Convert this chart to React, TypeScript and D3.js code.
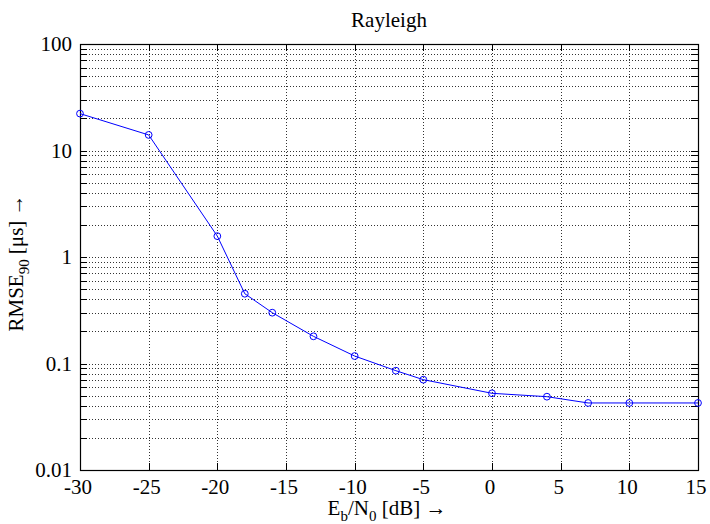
import React from "react";
import * as d3 from "d3";

const ebn0 = [-30, -25, -20, -18, -16, -13, -10, -7, -5, 0, 4, 7, 10, 15];
const rmse = [22.2, 14.0, 1.57, 0.452, 0.300, 0.180, 0.1175, 0.0856, 0.0705, 0.0525, 0.0488, 0.0426, 0.0426, 0.0426];
const xTicks = [-30, -25, -20, -15, -10, -5, 0, 5, 10, 15];
const yMajor = [0.01, 0.1, 1, 10, 100];
const yMajorLabels = ["0.01", "0.1", "1", "10", "100"];
const title = "Rayleigh";

const W = 710, H = 524;
const L = 80, R = 698, T = 44, B = 470;
const FONT = "Liberation Serif";

export default function App() {
  const x = d3.scaleLinear().domain([-30, 15]).range([L, R]);
  const y = d3.scaleLog().domain([0.01, 100]).range([B, T]);
  const yAll = y.ticks();
  const line = d3.line<number>().x((_, i) => x(ebn0[i])).y((d) => y(d));
  const tick = 7;
  const gridStyle = { stroke: "#333", strokeWidth: 1, strokeDasharray: "1,2", shapeRendering: "crispEdges" as const };
  const ts = { fontFamily: FONT, fontSize: 21, fill: "#000" };

  return (
    <svg width={W} height={H} style={{ position: "absolute", left: 0, top: 0, background: "#fff", fontFamily: FONT }}>
      <rect x={0} y={0} width={W} height={H} fill="#fff" />
      {yAll.filter((v) => v > 0.01 && v < 100).map((v, i) => (
        <line key={"hg" + i} x1={L} x2={R} y1={Math.round(y(v)) + 0.5} y2={Math.round(y(v)) + 0.5} style={gridStyle} />
      ))}
      {xTicks.filter((v) => v > -30 && v < 15).map((v, i) => (
        <line key={"vg" + i} x1={Math.round(x(v)) + 0.5} x2={Math.round(x(v)) + 0.5} y1={T} y2={B} style={gridStyle} />
      ))}
      {yAll.map((v, i) => {
        const yy = Math.round(y(v)) + 0.5;
        return (
          <g key={"yt" + i} stroke="#000" strokeWidth={1}>
            <line x1={L} x2={L + tick} y1={yy} y2={yy} />
            <line x1={R} x2={R - tick} y1={yy} y2={yy} />
          </g>
        );
      })}
      {xTicks.map((v, i) => {
        const xx = Math.round(x(v)) + 0.5;
        return (
          <g key={"xt" + i} stroke="#000" strokeWidth={1}>
            <line x1={xx} x2={xx} y1={B} y2={B - tick} />
            <line x1={xx} x2={xx} y1={T} y2={T + tick} />
          </g>
        );
      })}
      <rect x={L + 0.5} y={T + 0.5} width={R - L} height={B - T} fill="none" stroke="#000" strokeWidth={1.2} />
      {yMajor.map((v, i) => (
        <text key={"yl" + i} x={72} y={y(v) + 7} textAnchor="end" style={ts}>
          {yMajorLabels[i]}
        </text>
      ))}
      {xTicks.map((v, i) => (
        <text key={"xl" + i} x={x(v) - 2} y={494} textAnchor="middle" style={ts}>
          {String(v)}
        </text>
      ))}
      <path d={line(rmse) || ""} fill="none" stroke="#0000ff" strokeWidth={1} />
      {rmse.map((v, i) => (
        <circle key={"pt" + i} cx={x(ebn0[i])} cy={y(v)} r={3.4} fill="none" stroke="#0000ff" strokeWidth={1} />
      ))}
      <text x={(L + R) / 2} y={27} textAnchor="middle" style={ts}>{title}</text>
      <text x={387} y={515} textAnchor="middle" style={ts}>
        <tspan>E</tspan>
        <tspan fontSize={15} dy={6}>b</tspan>
        <tspan dy={-6}>/N</tspan>
        <tspan fontSize={15} dy={6}>0</tspan>
        <tspan dy={-6}>{" [dB] \u2192"}</tspan>
      </text>
      <text transform={`translate(23,263) rotate(-90)`} textAnchor="middle" style={ts}>
        <tspan>RMSE</tspan>
        <tspan fontSize={15} dy={6}>90</tspan>
        <tspan dy={-6}>{"  [\u03bcs] \u2192"}</tspan>
      </text>
    </svg>
  );
}
